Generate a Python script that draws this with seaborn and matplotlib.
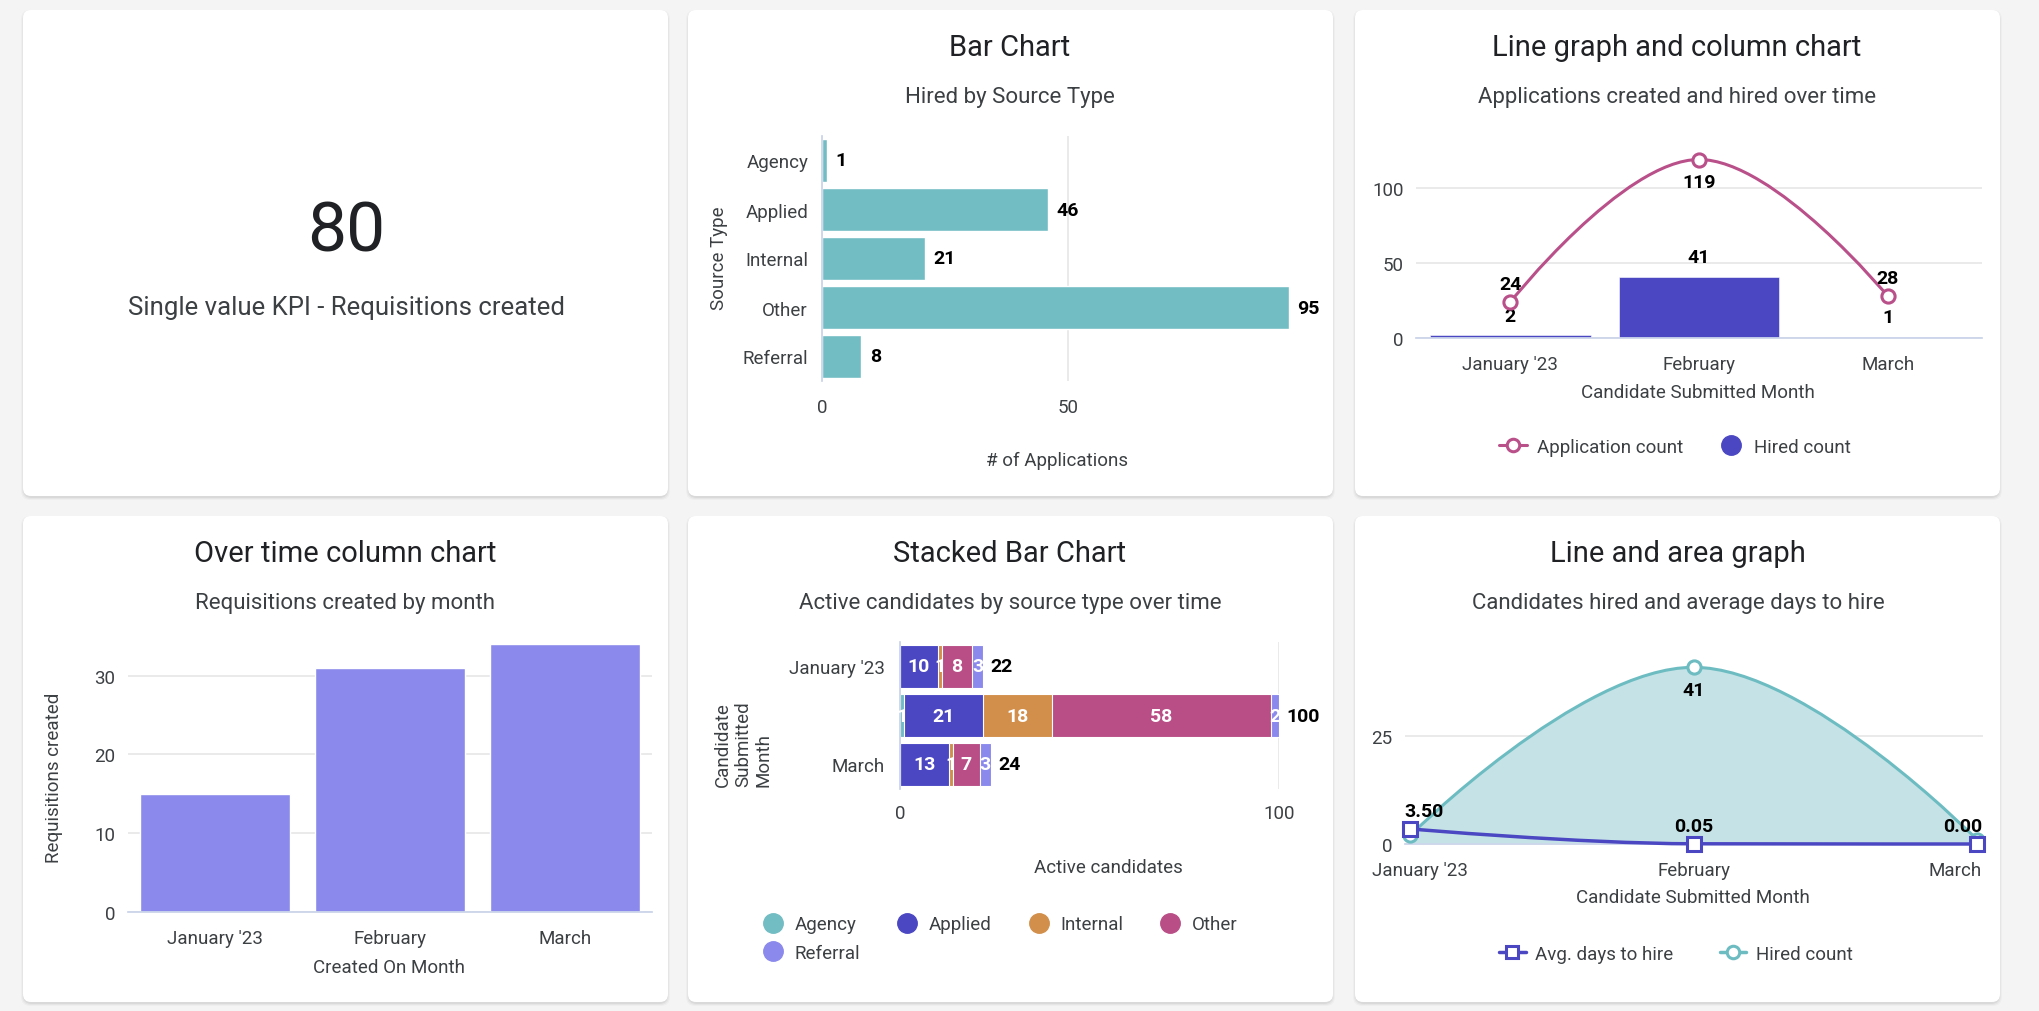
import matplotlib
matplotlib.use("Agg")
import matplotlib.pyplot as plt
import seaborn as sns
import pandas as pd
from matplotlib.path import Path
from matplotlib.patches import PathPatch, FancyBboxPatch
from matplotlib.lines import Line2D
from matplotlib.transforms import IdentityTransform, ScaledTranslation

# ---------------------------------------------------------------- data
kpi_value = 80
kpi_caption = "Single value KPI - Requisitions created"

source_types = ["Agency", "Applied", "Internal", "Other", "Referral"]
hired_by_source = [1, 46, 21, 95, 8]

months = ["January '23", "February", "March"]
application_count = [24, 119, 28]
hired_count = [2, 41, 1]

requisitions_created = [15, 31, 34]

active_agency = [0, 1, 0]
active_applied = [10, 21, 13]
active_internal = [1, 18, 1]
active_other = [8, 58, 7]
active_referral = [3, 2, 3]

avg_days_to_hire = [3.50, 0.05, 0.00]

# ---------------------------------------------------------------- style
sns.set_theme(style="white")
plt.rcParams["font.family"] = ["Roboto", "DejaVu Sans"]

TEXT = "#3c4043"
TITLE = "#202124"
GRID = "#e6e6e6"
AXLINE = "#ccd6eb"
TEAL = "#72bcc3"
DARK = "#4b47c3"
ORANGE = "#d28f4b"
MAGENTA = "#b94e86"
PERI = "#8b89ec"
LINE_PINK = "#b9508a"
AREA_FILL = "#c5e3e6"
FS = 13.5

W, H = 2040, 1012
fig = plt.figure(figsize=(W / 100, H / 100), dpi=100)
fig.patch.set_facecolor("#f4f4f4")


def rect(x0, y0, x1, y1):
    return [x0 / W, 1 - y1 / H, (x1 - x0) / W, (y1 - y0) / H]


def card(x0, y0, x1, y1):
    for off, a in ((3, 0.025), (2, 0.035), (1, 0.05)):
        fig.add_artist(FancyBboxPatch((x0 - off + 1, H - y1 - off - 1), x1 - x0 + 2 * off - 2,
                                      y1 - y0 + 2 * off - 2,
                                      boxstyle="round,pad=0,rounding_size=9",
                                      transform=IdentityTransform(), facecolor="black",
                                      edgecolor="none", alpha=a, zorder=-3))
    fig.add_artist(FancyBboxPatch((x0, H - y1), x1 - x0, y1 - y0,
                                  boxstyle="round,pad=0,rounding_size=8",
                                  transform=IdentityTransform(), facecolor="white",
                                  edgecolor="none", zorder=-2))


def fig_text(x, y, s, **kw):
    return fig.text(x / W, 1 - y / H, s, ha=kw.pop("ha", "center"), va=kw.pop("va", "center"), **kw)


def headings(cx, title, subtitle, top):
    fig_text(cx, top + 37, title, fontsize=21, color=TITLE)
    fig_text(cx, top + 87, subtitle, fontsize=16, color=TEXT)


def add_axes(box):
    ax = fig.add_axes(rect(*box))
    ax.set_zorder(1)
    return ax


def style(ax, grid_axis, base="bottom"):
    for name, sp in ax.spines.items():
        sp.set_visible(name == base)
        sp.set_color(AXLINE)
        sp.set_linewidth(1.3)
    ax.tick_params(length=0, labelsize=FS, colors=TEXT, pad=9)
    ax.grid(axis=grid_axis, color=GRID, linewidth=1.2)
    ax.grid(axis="y" if grid_axis == "x" else "x", visible=False)
    ax.set_axisbelow(True)
    ax.set_facecolor("none")


def place_label(ax, box, which, text, cx, cy, **kw):
    x0, y0, x1, y1 = box
    if which == "x":
        ax.set_xlabel(text, fontsize=FS, color=TEXT, va="center", ha="center", **kw)
        ax.xaxis.set_label_coords((cx - x0) / (x1 - x0), (y1 - cy) / (y1 - y0))
    else:
        ax.set_ylabel(text, fontsize=FS, color=TEXT, va="center", ha="center", **kw)
        ax.yaxis.set_label_coords((cx - x0) / (x1 - x0), (y1 - cy) / (y1 - y0))


def spline(xs, ys, smoothing=1.5):
    """Cubic Bezier segments through the points with overshoot-free tangents."""
    n = len(xs)
    denom = smoothing + 1
    left, right = [None] * n, [None] * n
    for i in range(1, n - 1):
        px, py = xs[i], ys[i]
        lx, ly = xs[i - 1], ys[i - 1]
        nx, ny = xs[i + 1], ys[i + 1]
        lcx, lcy = (smoothing * px + lx) / denom, (smoothing * py + ly) / denom
        rcx, rcy = (smoothing * px + nx) / denom, (smoothing * py + ny) / denom
        corr = (rcy - lcy) * (rcx - px) / (rcx - lcx) + py - rcy
        lcy += corr
        rcy += corr
        if lcy > ly and lcy > py:
            lcy = max(ly, py); rcy = 2 * py - lcy
        elif lcy < ly and lcy < py:
            lcy = min(ly, py); rcy = 2 * py - lcy
        if rcy > ny and rcy > py:
            rcy = max(ny, py); lcy = 2 * py - rcy
        elif rcy < ny and rcy < py:
            rcy = min(ny, py); lcy = 2 * py - rcy
        left[i], right[i] = (lcx, lcy), (rcx, rcy)
    verts, codes = [(xs[0], ys[0])], [Path.MOVETO]
    for i in range(1, n):
        verts += [right[i - 1] or (xs[i - 1], ys[i - 1]), left[i] or (xs[i], ys[i]), (xs[i], ys[i])]
        codes += [Path.CURVE4] * 3
    return verts, codes


def shift_labels(labels, shifts):
    for lab, dx in zip(labels, shifts):
        lab.set_transform(lab.get_transform() + ScaledTranslation(dx / 100, 0, fig.dpi_scale_trans))


bold = dict(fontsize=14, fontweight="bold", color="black")

# ---------------------------------------------------------------- cards
cards = [(23, 11, 668, 497), (688, 11, 1333, 497), (1355, 11, 2000, 497),
         (23, 517, 668, 1003), (688, 517, 1333, 1003), (1355, 517, 2000, 1003)]
for c in cards:
    card(*c)

# ---------------------------------------------------------------- single value
fig_text(346, 233, str(kpi_value), fontsize=50, color=TITLE)
fig_text(346, 308, kpi_caption, fontsize=18.5, color=TEXT)

# ---------------------------------------------------------------- bar chart
headings(1010, "Bar Chart", "Hired by Source Type", 11)
box2 = (822, 137, 1289, 382)
ax2 = add_axes(box2)
df2 = pd.DataFrame({"Source Type": source_types, "Hired": hired_by_source})
sns.barplot(data=df2, y="Source Type", x="Hired", orient="h", color=TEAL, saturation=1,
            width=0.89, edgecolor="white", linewidth=1, ax=ax2)
style(ax2, "x", base="left")
ax2.set_xlim(0, 95)
ax2.set_xticks([0, 50])
ax2.tick_params(axis="y", pad=10)
ax2.tick_params(axis="x", pad=12)
for i, v in enumerate(hired_by_source):
    ax2.annotate(str(v), (v, i), xytext=(6, 0), textcoords="offset points",
                 ha="left", va="center", **bold)
place_label(ax2, box2, "x", "# of Applications", 1057, 461)
place_label(ax2, box2, "y", "Source Type", 719, 258)

# ---------------------------------------------------------------- line + column
headings(1677, "Line graph and column chart", "Applications created and hired over time", 11)
box3 = (1416, 156, 1982, 339)
ax3 = add_axes(box3)
df3 = pd.DataFrame({"Month": months, "Hired count": hired_count})
sns.barplot(data=df3, x="Month", y="Hired count", color=DARK, saturation=1, width=0.853,
            edgecolor="white", linewidth=0.4, ax=ax3)
style(ax3, "y")
ax3.set_ylim(0, 122)
ax3.set_yticks([0, 50, 100])
ax3.set_xlim(-0.5, 2.5)
ax3.tick_params(axis="x", pad=12)
xs = list(range(len(months)))
v, c = spline(xs, application_count)
ax3.add_patch(PathPatch(Path(v, c), facecolor="none", edgecolor=LINE_PINK, linewidth=2.2,
                        clip_on=False, zorder=4))
ax3.plot(xs, application_count, ls="none", marker="o", markersize=9.5, markerfacecolor="white",
         markeredgecolor=LINE_PINK, markeredgewidth=2.2, clip_on=False, zorder=5)
for i, val in enumerate(hired_count):
    ax3.annotate(str(val), (i, val), xytext=(0, 14), textcoords="offset points",
                 ha="center", va="center", **bold)
top3 = ax3.get_ylim()[1]
for i, val in enumerate(application_count):
    dy = -16 if val > 0.9 * top3 else 13
    ax3.annotate(str(val), (i, val), xytext=(0, dy), textcoords="offset points",
                 ha="center", va="center", zorder=6, **bold)
place_label(ax3, box3, "x", "Candidate Submitted Month", 1698, 393)
ax3.set_ylabel("")
leg3 = [Line2D([], [], color=LINE_PINK, lw=2.2, marker="o", markersize=9, markerfacecolor="white",
               markeredgewidth=2.2),
        Line2D([], [], color=DARK, ls="none", marker="o", markersize=14)]
fig.legend(leg3, ["Application count", "Hired count"], loc="center",
           bbox_to_anchor=(1675 / W, 1 - 448 / H), ncol=2, frameon=False, fontsize=FS,
           labelcolor=TEXT, handlelength=1.5, handletextpad=0.5, columnspacing=1.8)

# ---------------------------------------------------------------- column over time
headings(345, "Over time column chart", "Requisitions created by month", 517)
box4 = (128, 645, 652, 913)
ax4 = add_axes(box4)
df4 = pd.DataFrame({"Created On Month": months, "Requisitions created": requisitions_created})
sns.barplot(data=df4, x="Created On Month", y="Requisitions created", color=PERI, saturation=1,
            width=0.86, edgecolor="white", linewidth=1, ax=ax4)
style(ax4, "y")
ax4.set_ylim(0, 34)
ax4.set_yticks([0, 10, 20, 30])
ax4.tick_params(axis="x", pad=12)
place_label(ax4, box4, "x", "Created On Month", 389, 968)
place_label(ax4, box4, "y", "Requisitions created", 54, 778)

# ---------------------------------------------------------------- stacked bar
headings(1010, "Stacked Bar Chart", "Active candidates by source type over time", 517)
box5 = (900, 643, 1279, 790)
ax5 = add_axes(box5)
parts = [active_agency, active_applied, active_internal, active_other, active_referral]
colors = [TEAL, DARK, ORANGE, MAGENTA, PERI]
cums = []
run = [0] * len(months)
for p in parts:
    run = [r + x for r, x in zip(run, p)]
    cums.append(run)
for k in reversed(range(len(parts))):
    dfk = pd.DataFrame({"Month": months, "Active": cums[k]})
    sns.barplot(data=dfk, y="Month", x="Active", orient="h", color=colors[k], saturation=1,
                width=0.86, edgecolor="white", linewidth=0.8, ax=ax5)
style(ax5, "x", base="left")
ax5.set_xlim(0, 100)
ax5.set_xticks([0, 100])
ax5.tick_params(axis="y", pad=11)
ax5.tick_params(axis="x", pad=11)
ax5.get_yticklabels()[1].set_visible(False)
for i in range(len(months)):
    start = 0
    for k, p in enumerate(parts):
        if p[i] > 0:
            ax5.text(start + p[i] / 2, i, str(p[i]), ha="center", va="center",
                     fontsize=14, fontweight="bold", color="white", zorder=5)
        start += p[i]
    ax5.annotate(str(cums[-1][i]), (cums[-1][i], i), xytext=(5, 0), textcoords="offset points",
                 ha="left", va="center", **bold)
place_label(ax5, box5, "x", "Active candidates", 1108, 868)
ax5.set_ylabel("")
fig_text(743, 744, "Candidate\nSubmitted\nMonth", rotation=90, fontsize=FS, color=TEXT,
         multialignment="left", linespacing=1.15)
handles5 = [Line2D([], [], ls="none", marker="o", markersize=14, color=c) for c in colors]
order = [0, 4, 1, 2, 3]
fig.legend([handles5[i] for i in order], [source_types[i] for i in order], loc="center left",
           bbox_to_anchor=(764 / W, 1 - 939.5 / H), ncol=4, frameon=False, fontsize=FS,
           labelcolor=TEXT, handlelength=1.0, handletextpad=0.65, columnspacing=2.0,
           labelspacing=0.55, borderpad=0, borderaxespad=0)

# ---------------------------------------------------------------- line + area
headings(1678, "Line and area graph", "Candidates hired and average days to hire", 517)
box6 = (1405, 664, 1983, 845)
ax6 = add_axes(box6)
style(ax6, "y")
ax6.set_xlim(-0.018, 2.021)
ax6.set_ylim(0, 42)
ax6.set_yticks([0, 25])
ax6.set_xticks(xs)
ax6.set_xticklabels(months)
ax6.tick_params(axis="x", pad=12)
va, ca = spline(xs, hired_count)
area_v = va + [(xs[-1], 0), (xs[0], 0), (xs[0], hired_count[0])]
area_c = ca + [Path.LINETO, Path.LINETO, Path.CLOSEPOLY]
ax6.add_patch(PathPatch(Path(area_v, area_c), facecolor=AREA_FILL, edgecolor="none", zorder=2))
ax6.add_patch(PathPatch(Path(va, ca), facecolor="none", edgecolor="#6dbcc2", linewidth=2.2,
                        zorder=3, clip_on=False))
vd, cd = spline(xs, avg_days_to_hire)
ax6.add_patch(PathPatch(Path(vd, cd), facecolor="none", edgecolor=DARK, linewidth=2.5,
                        zorder=4, clip_on=False))
ax6.plot(xs, hired_count, ls="none", marker="o", markersize=9.5, markerfacecolor="white",
         markeredgecolor="#6dbcc2", markeredgewidth=2.2, clip_on=False, zorder=5)
ax6.plot(xs, avg_days_to_hire, ls="none", marker="s", markersize=9.5, markerfacecolor="white",
         markeredgecolor=DARK, markeredgewidth=2.2, clip_on=False, zorder=6)
peak = max(hired_count)
ax6.annotate(str(peak), (hired_count.index(peak), peak), xytext=(0, -16),
             textcoords="offset points", ha="center", va="center", zorder=7, **bold)
last = len(xs) - 1
for i, val in enumerate(avg_days_to_hire):
    ha = "left" if i == 0 else ("right" if i == last else "center")
    dx = -4 if i == 0 else (4 if i == last else 0)
    ax6.annotate(f"{val:.2f}", (i, val), xytext=(dx, 13), textcoords="offset points",
                 ha=ha, va="center", zorder=7, **bold)
shift_labels(ax6.get_xticklabels(), [10, 0, -22])
place_label(ax6, box6, "x", "Candidate Submitted Month", 1693, 898)
leg6 = [Line2D([], [], color=DARK, lw=2.5, marker="s", markersize=9, markerfacecolor="white",
               markeredgewidth=2.2),
        Line2D([], [], color="#6dbcc2", lw=2.5, marker="o", markersize=9, markerfacecolor="white",
               markeredgewidth=2.2)]
fig.legend(leg6, ["Avg. days to hire", "Hired count"], loc="center",
           bbox_to_anchor=(1676 / W, 1 - 955 / H), ncol=2, frameon=False, fontsize=FS,
           labelcolor=TEXT, handlelength=1.4, handletextpad=0.5, columnspacing=2.5)

fig.savefig("out.png", dpi=100, facecolor=fig.get_facecolor())
